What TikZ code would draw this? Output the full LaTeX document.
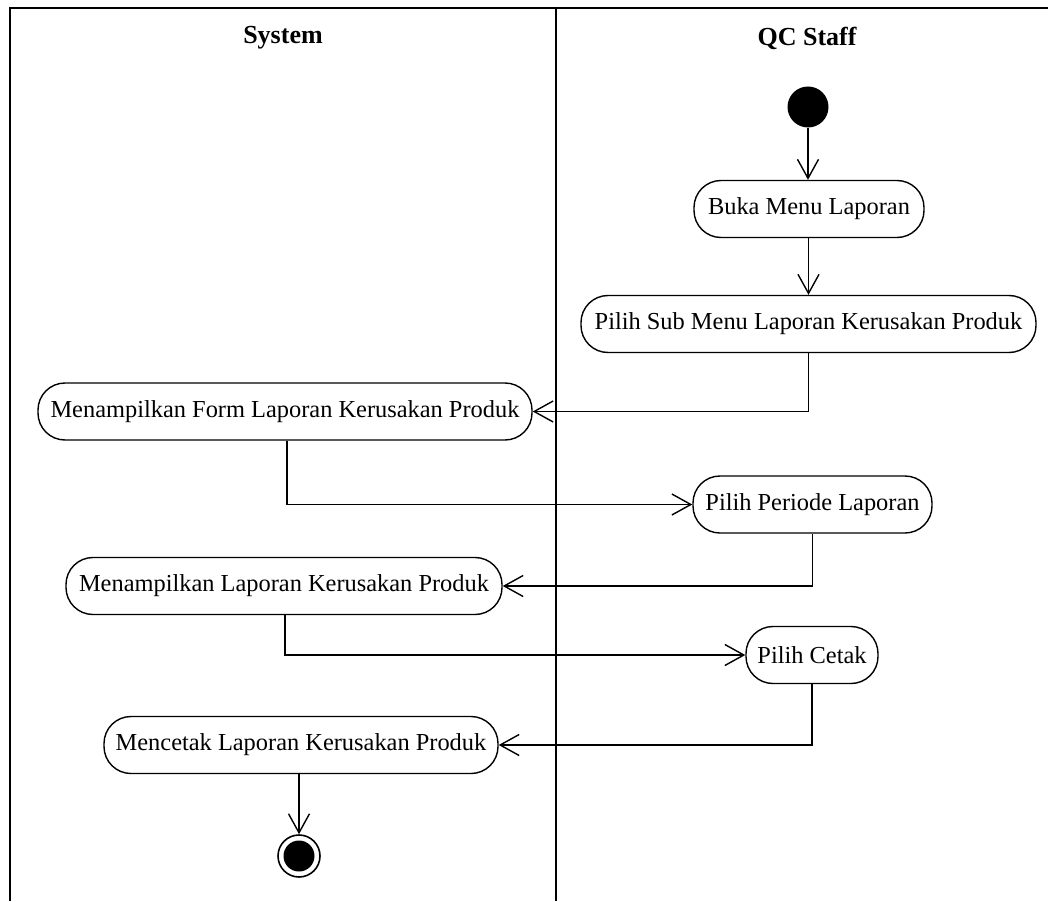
\documentclass[tikz,border=0pt]{standalone}
\usepackage{fontspec}
\setmainfont{Liberation Serif}
\usetikzlibrary{arrows.meta}
\begin{document}
\begin{tikzpicture}[x=1pt,y=-1pt,
  action/.style={draw, line width=1.4pt, rounded corners=27pt, minimum height=57pt,
    inner sep=0pt, font=\fontsize{24.4}{28}\selectfont},
  flow/.style={line width=1.4pt, -{Straight Barb[length=19pt,width=21pt]}},
  lane/.style={line width=2pt},
  lanehead/.style={font=\fontsize{26}{30}\selectfont\bfseries},
  startnode/.style={circle, fill=black, minimum size=41pt, inner sep=0pt},
  endring/.style={circle, draw, line width=1.6pt, minimum size=42pt, inner sep=0pt},
  enddot/.style={circle, fill=black, minimum size=31pt, inner sep=0pt}]
\useasboundingbox (0,0) rectangle (1048,901);

% swimlane frame
\draw[lane] (9.5,901) -- (9.5,8.5) -- (1048,8.5);
\draw[lane] (555.5,8.5) -- (555.5,901);
\node[lanehead] (sys) at (283,38) {System};
\node[lanehead] (qc) at (807,38) {QC Staff};

% QC Staff lane
\node[startnode] (start) at (808,107) {};
\node[action, minimum width=230pt] (buka) at (809,209) {Buka Menu Laporan};
\node[action, minimum width=455pt] (sub) at (808.5,324) {Pilih Sub Menu Laporan Kerusakan Produk};
\node[action, minimum width=239pt] (periode) at (812.5,504.5) {Pilih Periode Laporan};
\node[action, minimum width=132pt] (cetak) at (812,655) {Pilih Cetak};

% System lane
\node[action, minimum width=494pt] (form) at (285,411.5) {Menampilkan Form Laporan Kerusakan Produk};
\node[action, minimum width=436pt] (lap) at (284,586) {Menampilkan Laporan Kerusakan Produk};
\node[action, minimum width=394pt] (cetakdoc) at (301,745) {Mencetak Laporan Kerusakan Produk};
\node[endring] (finish) at (299,856) {};
\node[enddot] (finishdot) at (finish.center) {};

% control flow
\draw[flow] (start.south) -- (start.south |- buka.north);
\draw[flow] (buka.south -| sub.north) -- (sub.north);
\draw[flow] (sub.south) |- (form.east);
\draw[flow] ([xshift=2pt]form.south) |- (periode.west);
\draw[flow] (periode.south) |- (lap.east);
\draw[flow] ([xshift=1pt]lap.south) |- (cetak.west);
\draw[flow] (cetak.south) |- (cetakdoc.east);
\draw[flow] (cetakdoc.south -| finish.north) -- (finish.north);
\end{tikzpicture}
\end{document}
